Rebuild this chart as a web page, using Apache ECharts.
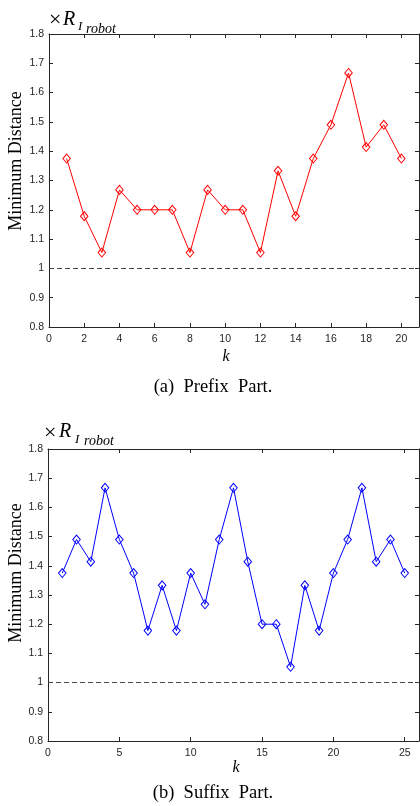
<!DOCTYPE html>
<html>
<head>
<meta charset="utf-8">
<script src="https://cdn.jsdelivr.net/npm/echarts@6/dist/echarts.min.js"></script>
<style>
html,body{margin:0;padding:0;background:#fff;}
#c{width:420px;height:806px;}
</style>
</head>
<body>
<div id="c"></div>
<script>
// Data
var prefixK = [1,2,3,4,5,6,7,8,9,10,11,12,13,14,15,16,17,18,19,20];
var prefixDist = [1.375,1.178,1.054,1.268,1.2,1.2,1.2,1.054,1.268,1.2,1.2,1.054,1.333,1.178,1.375,1.49,1.667,1.414,1.49,1.375];
var suffixK = [1,2,3,4,5,6,7,8,9,10,11,12,13,14,15,16,17,18,19,20,21,22,23,24,25];
var suffixDist = [1.375,1.49,1.414,1.667,1.49,1.375,1.178,1.333,1.178,1.375,1.268,1.49,1.667,1.414,1.2,1.2,1.054,1.333,1.178,1.375,1.49,1.667,1.414,1.49,1.375];
var yMin = 0.8, yMax = 1.8, yStep = 0.1;
var refLevel = 1;
var captionA = '(a)  Prefix  Part.';
var captionB = '(b)  Suffix  Part.';
var yLabel = 'Minimum Distance';
var xLabel = 'k';

var axisColor = '#262626';
var sans = 'Liberation Sans';
var serif = 'Liberation Serif';

function pairs(xs, ys){ return xs.map(function(x,i){ return [x, ys[i]]; }); }

function xAxes(gi, max, interval){
  return [{
    gridIndex: gi, type: 'value', min: 0, max: max, interval: interval, position: 'bottom',
    axisLine: {show: true, lineStyle: {color: axisColor, width: 1}},
    axisTick: {show: true, inside: true, length: 4, lineStyle: {color: axisColor}},
    axisLabel: {show: true, color: axisColor, fontFamily: sans, fontSize: 10.5, margin: 7, showMaxLabel: false},
    splitLine: {show: false}
  },{
    gridIndex: gi, type: 'value', min: 0, max: max, interval: interval, position: 'top',
    axisLine: {show: true, onZero: false, lineStyle: {color: axisColor, width: 1}},
    axisTick: {show: true, inside: true, length: 4, lineStyle: {color: axisColor}},
    axisLabel: {show: false},
    splitLine: {show: false}
  }];
}
function yAxes(gi){
  return [{
    gridIndex: gi, type: 'value', min: yMin, max: yMax, interval: yStep, position: 'left',
    axisLine: {show: true, lineStyle: {color: axisColor, width: 1}},
    axisTick: {show: true, inside: true, length: 4, lineStyle: {color: axisColor}},
    axisLabel: {show: true, color: axisColor, fontFamily: sans, fontSize: 10.5, margin: 5,
      formatter: function(v){ return String(Math.round(v*10)/10); }},
    splitLine: {show: false}
  },{
    gridIndex: gi, type: 'value', min: yMin, max: yMax, interval: yStep, position: 'right',
    axisLine: {show: true, onZero: false, lineStyle: {color: axisColor, width: 1}},
    axisTick: {show: true, inside: true, length: 4, lineStyle: {color: axisColor}},
    axisLabel: {show: false},
    splitLine: {show: false}
  }];
}
function lineSeries(xi, yi, data, color){
  return {
    type: 'line', xAxisIndex: xi, yAxisIndex: yi, data: data,
    symbol: 'diamond', symbolSize: [7.5, 9],
    lineStyle: {color: color, width: 1},
    itemStyle: {color: 'rgba(0,0,0,0)', borderColor: color, borderWidth: 1},
    animation: false, z: 3,
    markLine: {
      silent: true, symbol: ['none','none'], label: {show: false},
      lineStyle: {color: '#444444', type: [5,3], width: 1},
      data: [{yAxis: refLevel}], animation: false
    }
  };
}
function txt(x, y, s, size, italic, align, extra){
  var o = {type: 'text', x: x, y: y, silent: true,
    style: {text: s, fontFamily: serif, fontSize: size, fontStyle: italic ? 'italic' : 'normal',
      fill: '#000', textAlign: align || 'left', textVerticalAlign: 'middle'}};
  if (extra) for (var k in extra) o[k] = extra[k];
  return o;
}

var chart = echarts.init(document.getElementById('c'), null, {renderer: 'canvas'});
chart.setOption({
  backgroundColor: '#fff',
  animation: false,
  grid: [
    {left: 49, top: 34, width: 370, height: 293},
    {left: 48, top: 449, width: 371, height: 292}
  ],
  xAxis: xAxes(0, 21, 2).concat(xAxes(1, 26, 5)),
  yAxis: yAxes(0).concat(yAxes(1)),
  series: [
    lineSeries(0, 0, pairs(prefixK, prefixDist), '#ff0000'),
    lineSeries(2, 2, pairs(suffixK, suffixDist), '#0000ff')
  ],
  graphic: [
    // top chart annotations
    txt(49, 20.5, '×', 22, false),
    txt(63, 19.5, 'R', 20, true),
    txt(78, 27, 'I', 13, true),
    txt(86, 29, 'robot', 14, true),
    txt(16, 161, yLabel, 18, false, 'center', {rotation: Math.PI/2}),
    txt(226, 357, xLabel, 16, true, 'center'),
    txt(213, 387, captionA, 18.5, false, 'center'),
    // bottom chart annotations
    txt(44, 433.5, '×', 22, false),
    txt(59, 432, 'R', 20, true),
    txt(75, 439.5, 'I', 13, true),
    txt(84, 441.5, 'robot', 14, true),
    txt(16, 573, yLabel, 18, false, 'center', {rotation: Math.PI/2}),
    txt(236, 768, xLabel, 16, true, 'center'),
    txt(213, 793, captionB, 18.5, false, 'center')
  ]
});
</script>
</body>
</html>
